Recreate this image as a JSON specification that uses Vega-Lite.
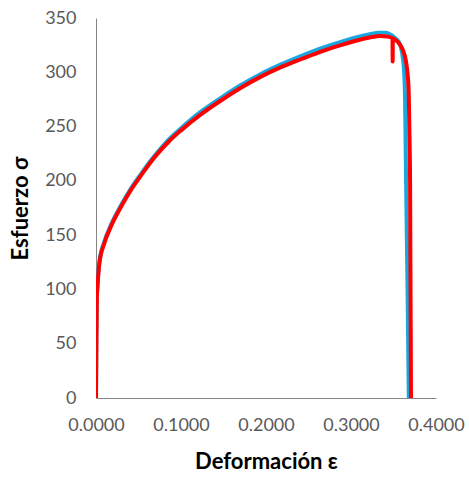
{
  "$schema": "https://vega.github.io/schema/vega-lite/v6.json",
  "autosize": "none",
  "width": 340,
  "height": 380,
  "padding": {"left": 96, "top": 18, "right": 33, "bottom": 82},
  "background": "white",
  "config": {
    "view": {"stroke": null},
    "axis": {
      "grid": false,
      "ticks": false,
      "domainColor": "#868686",
      "domainWidth": 1,
      "labelFont": "Lato",
      "labelFontSize": 18,
      "labelColor": "#595959",
      "titleFont": "Lato",
      "titleFontSize": 22,
      "titleFontWeight": "bold",
      "titleColor": "#000000"
    }
  },
  "datasets": {
    "curves": [
      {"serie": "B", "def": 0, "esf": 0},
      {"serie": "B", "def": 0.0005, "esf": 56},
      {"serie": "B", "def": 0.001, "esf": 93},
      {"serie": "B", "def": 0.0015, "esf": 101},
      {"serie": "B", "def": 0.002, "esf": 107.5},
      {"serie": "B", "def": 0.004, "esf": 125.5},
      {"serie": "B", "def": 0.0098, "esf": 144},
      {"serie": "B", "def": 0.0176, "esf": 159.5},
      {"serie": "B", "def": 0.0294, "esf": 177.5},
      {"serie": "B", "def": 0.041, "esf": 193},
      {"serie": "B", "def": 0.053, "esf": 206.5},
      {"serie": "B", "def": 0.0627, "esf": 217},
      {"serie": "B", "def": 0.073, "esf": 227},
      {"serie": "B", "def": 0.086, "esf": 238.5},
      {"serie": "B", "def": 0.1, "esf": 248.5},
      {"serie": "B", "def": 0.123, "esf": 263.5},
      {"serie": "B", "def": 0.147, "esf": 276.5},
      {"serie": "B", "def": 0.17, "esf": 288},
      {"serie": "B", "def": 0.194, "esf": 298.5},
      {"serie": "B", "def": 0.217, "esf": 307},
      {"serie": "B", "def": 0.241, "esf": 315},
      {"serie": "B", "def": 0.268, "esf": 323},
      {"serie": "B", "def": 0.29, "esf": 328.5},
      {"serie": "B", "def": 0.308, "esf": 332.5},
      {"serie": "B", "def": 0.322, "esf": 335},
      {"serie": "B", "def": 0.333, "esf": 336.5},
      {"serie": "B", "def": 0.341, "esf": 336.5},
      {"serie": "B", "def": 0.347, "esf": 334.5},
      {"serie": "B", "def": 0.352, "esf": 331.5},
      {"serie": "B", "def": 0.357, "esf": 327},
      {"serie": "B", "def": 0.361, "esf": 313},
      {"serie": "B", "def": 0.3627, "esf": 297.5},
      {"serie": "B", "def": 0.3636, "esf": 275},
      {"serie": "B", "def": 0.364, "esf": 251},
      {"serie": "B", "def": 0.3648, "esf": 200},
      {"serie": "B", "def": 0.3665, "esf": 100},
      {"serie": "B", "def": 0.368, "esf": 0},
      {"serie": "R", "def": 0, "esf": 0},
      {"serie": "R", "def": 0.0005, "esf": 55},
      {"serie": "R", "def": 0.001, "esf": 92},
      {"serie": "R", "def": 0.0015, "esf": 100},
      {"serie": "R", "def": 0.002, "esf": 106},
      {"serie": "R", "def": 0.004, "esf": 124},
      {"serie": "R", "def": 0.0098, "esf": 142.5},
      {"serie": "R", "def": 0.0176, "esf": 158},
      {"serie": "R", "def": 0.0294, "esf": 176},
      {"serie": "R", "def": 0.041, "esf": 191.5},
      {"serie": "R", "def": 0.053, "esf": 205},
      {"serie": "R", "def": 0.0627, "esf": 215.5},
      {"serie": "R", "def": 0.073, "esf": 225.5},
      {"serie": "R", "def": 0.086, "esf": 236.5},
      {"serie": "R", "def": 0.1, "esf": 246.5},
      {"serie": "R", "def": 0.123, "esf": 261},
      {"serie": "R", "def": 0.147, "esf": 274},
      {"serie": "R", "def": 0.17, "esf": 285.5},
      {"serie": "R", "def": 0.194, "esf": 296},
      {"serie": "R", "def": 0.217, "esf": 304.5},
      {"serie": "R", "def": 0.241, "esf": 312},
      {"serie": "R", "def": 0.268, "esf": 320},
      {"serie": "R", "def": 0.29, "esf": 325.5},
      {"serie": "R", "def": 0.308, "esf": 329.5},
      {"serie": "R", "def": 0.322, "esf": 332},
      {"serie": "R", "def": 0.335, "esf": 333.5},
      {"serie": "R", "def": 0.342, "esf": 333},
      {"serie": "R", "def": 0.3488, "esf": 331.5},
      {"serie": "R", "def": 0.349, "esf": 310},
      {"serie": "R", "def": 0.3492, "esf": 331},
      {"serie": "R", "def": 0.355, "esf": 328},
      {"serie": "R", "def": 0.361, "esf": 320.5},
      {"serie": "R", "def": 0.3647, "esf": 310},
      {"serie": "R", "def": 0.3667, "esf": 297.5},
      {"serie": "R", "def": 0.3679, "esf": 282},
      {"serie": "R", "def": 0.3686, "esf": 251},
      {"serie": "R", "def": 0.3695, "esf": 200},
      {"serie": "R", "def": 0.3706, "esf": 0}
    ]
  },
  "data": {"name": "curves"},
  "encoding": {
    "x": {
      "field": "def",
      "type": "quantitative",
      "scale": {"domain": [0, 0.4], "nice": false, "zero": true},
      "axis": {
        "title": "Deformación ε",
        "format": ".4f",
        "values": [0, 0.1, 0.2, 0.3, 0.4],
        "labelPadding": 18,
        "labelFlush": false,
        "titleY": 63,
        "titleBaseline": "middle"
      }
    },
    "y": {
      "field": "esf",
      "type": "quantitative",
      "scale": {"domain": [0, 350], "nice": false},
      "axis": {
        "title": "Esfuerzo σ",
        "values": [0, 50, 100, 150, 200, 250, 300, 350],
        "labelPadding": 20,
        "labelFlush": false,
        "titleX": -76,
        "titleY": 190,
        "titleAngle": -90,
        "titleAlign": "center",
        "titleBaseline": "middle"
      }
    },
    "order": {"value": null}
  },
  "layer": [
    {
      "transform": [{"filter": "datum.serie === 'B'"}],
      "mark": {"type": "line", "color": "#1AA7E0", "strokeWidth": 4, "interpolate": "monotone", "strokeJoin": "round", "strokeCap": "round", "clip": true}
    },
    {
      "transform": [{"filter": "datum.serie === 'R'"}],
      "mark": {"type": "line", "color": "#FF0000", "strokeWidth": 4, "interpolate": "monotone", "strokeJoin": "round", "strokeCap": "round", "clip": true}
    }
  ]
}
